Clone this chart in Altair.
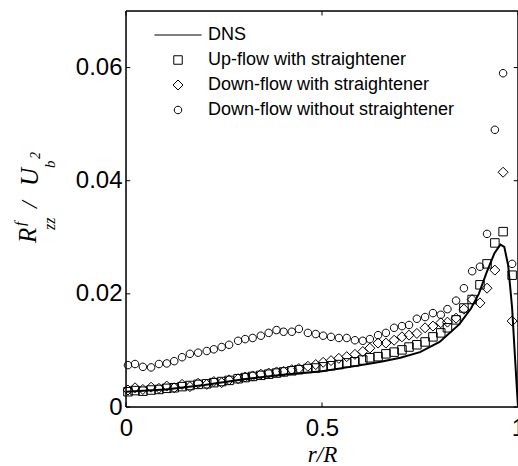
import altair as alt
import pandas as pd

# ---------------- data ----------------
series_names = ["DNS", "Up-flow with straightener",
                "Down-flow with straightener", "Down-flow without straightener"]

r_exp = [0.005, 0.023, 0.043, 0.064, 0.084, 0.104, 0.123, 0.143, 0.163, 0.184,
         0.206, 0.224, 0.244, 0.263, 0.286, 0.304, 0.323, 0.344, 0.364, 0.384,
         0.402, 0.423, 0.441, 0.464, 0.484, 0.503, 0.523, 0.543, 0.563, 0.584,
         0.604, 0.622, 0.643, 0.663, 0.684, 0.704, 0.722, 0.742, 0.763, 0.783,
         0.803, 0.820, 0.842, 0.862, 0.883, 0.903, 0.921, 0.941, 0.962, 0.985]

up_straight = [0.0027, 0.0029, 0.0028, 0.0030, 0.0031, 0.0033, 0.0034, 0.0036, 0.0038, 0.0040,
               0.0041, 0.0043, 0.0045, 0.0047, 0.0050, 0.0052, 0.0054, 0.0056, 0.0058, 0.0060,
               0.0062, 0.0064, 0.0066, 0.0068, 0.0069, 0.0071, 0.0073, 0.0075, 0.0078, 0.0080,
               0.0083, 0.0087, 0.0089, 0.0094, 0.0097, 0.0101, 0.0106, 0.0110, 0.0115, 0.0124,
               0.0131, 0.0140, 0.0154, 0.0175, 0.0190, 0.0216, 0.0253, 0.0290, 0.0310, 0.0233]

down_straight = [0.0030, 0.0034, 0.0031, 0.0035, 0.0033, 0.0037, 0.0034, 0.0040, 0.0036, 0.0042,
                 0.0040, 0.0045, 0.0043, 0.0048, 0.0050, 0.0053, 0.0055, 0.0058, 0.0060, 0.0062,
                 0.0063, 0.0066, 0.0068, 0.0072, 0.0075, 0.0079, 0.0082, 0.0086, 0.0089, 0.0093,
                 0.0098, 0.0104, 0.0113, 0.0113, 0.0118, 0.0124, 0.0127, 0.0130, 0.0140, 0.0143,
                 0.0149, 0.0150, 0.0157, 0.0173, 0.0190, 0.0184, 0.0210, 0.0242, 0.0415, 0.0152]

down_no_straight = [0.0074, 0.0076, 0.0071, 0.0070, 0.0076, 0.0077, 0.0081, 0.0088, 0.0094, 0.0096,
                    0.0099, 0.0102, 0.0106, 0.0110, 0.0117, 0.0120, 0.0122, 0.0126, 0.0131, 0.0136,
                    0.0133, 0.0133, 0.0138, 0.0131, 0.0129, 0.0126, 0.0124, 0.0122, 0.0122, 0.0118,
                    0.0117, 0.0120, 0.0127, 0.0131, 0.0140, 0.0143, 0.0145, 0.0156, 0.0159, 0.0166,
                    0.0163, 0.0173, 0.0188, 0.0210, 0.0240, 0.0248, 0.0306, 0.0490, 0.0590, 0.0253]

dns_r = [0.0, 0.1, 0.2, 0.3, 0.4, 0.5, 0.6, 0.65, 0.7, 0.75, 0.8, 0.85, 0.88, 0.9,
         0.92, 0.94, 0.955, 0.965, 0.975, 0.985, 0.993, 1.0]
dns_v = [0.0027, 0.0031, 0.0039, 0.0049, 0.0057, 0.0063, 0.0074, 0.0080, 0.0087, 0.0097,
         0.0115, 0.0146, 0.0174, 0.0200, 0.0238, 0.0272, 0.0287, 0.0283, 0.0250, 0.0175,
         0.0080, 0.0]

x_ticks = [0, 0.5, 1]
y_ticks = [0, 0.02, 0.04, 0.06]

# ---------------- tables ----------------
pts = pd.concat([
    pd.DataFrame({"r": r_exp, "v": up_straight, "series": series_names[1]}),
    pd.DataFrame({"r": r_exp, "v": down_straight, "series": series_names[2]}),
    pd.DataFrame({"r": r_exp, "v": down_no_straight, "series": series_names[3]}),
], ignore_index=True)
dns = pd.DataFrame({"r": dns_r, "v": dns_v})
xt = pd.DataFrame({"t": x_ticks})
yt = pd.DataFrame({"t": y_ticks})

XMAX, YMAX = 1.0, 0.07
xs = alt.Scale(domain=[0, XMAX], nice=False, zero=False)
ys = alt.Scale(domain=[0, YMAX], nice=False, zero=False)
frame = pd.DataFrame({"x0": [0.0, 0.0, 0.0, XMAX], "x1": [XMAX, XMAX, 0.0, XMAX],
                      "y0": [0.0, YMAX, 0.0, 0.0], "y1": [0.0, YMAX, YMAX, YMAX]})

shape_paths = [
    "M-5.9,0H5.9",
    "M-1.06,-1.06H1.06V1.06H-1.06Z",
    "M0,-1.25L1.25,0L0,1.25L-1.25,0Z",
    "M-0.94,0A0.94,0.94,0,1,1,0.94,0A0.94,0.94,0,1,1,-0.94,0Z",
]

x_enc = alt.X("r:Q", scale=xs,
              axis=alt.Axis(values=x_ticks, format="~g", title="r/R",
                            titleFont="Liberation Serif", titleFontStyle="italic",
                            titleFontWeight="normal", titleFontSize=23, titleColor="black",
                            titleBaseline="alphabetic", titleY=54,
                            labelFont="Liberation Sans", labelFontSize=24, labelColor="black",
                            labelPadding=9, ticks=False, domain=False, grid=False,
                            labelFlush=False))
y_enc = alt.Y("v:Q", scale=ys,
              axis=alt.Axis(values=y_ticks, format="~g", title=None,
                            labelFont="Liberation Sans", labelFontSize=24, labelColor="black",
                            labelPadding=4, ticks=False, domain=False, grid=False,
                            labelFlush=False))

points = alt.Chart(pts).mark_point(size=64, filled=False, color="black",
                                    strokeWidth=1, opacity=1).encode(
    x=x_enc, y=y_enc,
    shape=alt.Shape("series:N",
                    scale=alt.Scale(domain=series_names, range=shape_paths),
                    legend=alt.Legend(orient="none", legendX=43, legendY=15, title=None,
                                      labelFont="Liberation Sans", labelFontSize=18,
                                      labelColor="black", symbolSize=64, labelLimit=0,
                                      symbolStrokeColor="black", symbolFillColor="transparent",
                                      symbolStrokeWidth=1, rowPadding=7, labelOffset=21,
                                      padding=0)),
)

line = alt.Chart(dns).mark_line(color="black", strokeWidth=2).encode(
    x=alt.X("r:Q", scale=xs), y=alt.Y("v:Q", scale=ys))

border = alt.Chart(frame).mark_rule(color="black", strokeWidth=1.5).encode(
    x=alt.X("x0:Q", scale=xs), x2="x1:Q", y=alt.Y("y0:Q", scale=ys), y2="y1:Q")

TX = 0.011
TY = 0.0008
bt = alt.Chart(xt).mark_rule(color="black", strokeWidth=1).encode(
    x=alt.X("t:Q", scale=xs), y=alt.datum(0), y2=alt.datum(TY))
tt = alt.Chart(xt).mark_rule(color="black", strokeWidth=1).encode(
    x=alt.X("t:Q", scale=xs), y=alt.datum(YMAX), y2=alt.datum(YMAX - TY))
lt = alt.Chart(yt).mark_rule(color="black", strokeWidth=1).encode(
    y=alt.Y("t:Q", scale=ys), x=alt.datum(0), x2=alt.datum(TX))
rt = alt.Chart(yt).mark_rule(color="black", strokeWidth=1).encode(
    y=alt.Y("t:Q", scale=ys), x=alt.datum(XMAX), x2=alt.datum(XMAX - TX))

def tpiece(txt, px, py, size):
    return alt.Chart(pd.DataFrame({"s": [txt]})).mark_text(
        angle=270, align="left", baseline="alphabetic", font="Liberation Serif",
        fontStyle="italic", fontSize=size, color="black").encode(
        text="s:N", x=alt.value(px), y=alt.value(py))

title_parts = [
    tpiece("R", -90, 232, 25),
    tpiece("f", -101, 215, 15),
    tpiece("zz", -71, 219, 16),
    tpiece("/", -89, 197, 24),
    tpiece("U", -88, 175, 25),
    tpiece("b", -71, 157, 15),
    tpiece("2", -86, 148, 14),
]

chart = alt.layer(line, points, border, bt, tt, lt, rt, *title_parts).properties(
    width=392, height=396,
    autosize=alt.AutoSizeParams(type="none"),
    padding={"left": 126, "top": 11, "right": 0, "bottom": 59},
).configure_view(strokeWidth=0).configure(background="white")

chart.save("out.html", embed_options={"renderer": "svg", "actions": False})
